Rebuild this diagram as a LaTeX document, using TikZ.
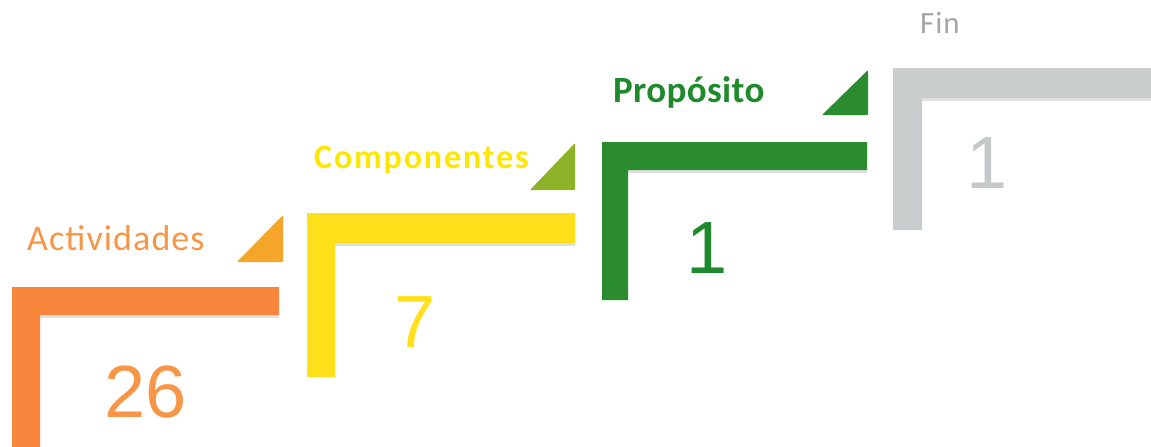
\documentclass[tikz,border=0pt]{standalone}
\usepackage{fontspec}
\setmainfont{Carlito}
\newfontfamily\numfont{Liberation Sans}
\definecolor{cOrange}{HTML}{F7863C}
\definecolor{cOrangeTxt}{HTML}{F79646}
\definecolor{cAmber}{HTML}{F5A52A}
\definecolor{cYellow}{HTML}{FFE01A}
\definecolor{cYellowTxt}{HTML}{FFE600}
\definecolor{cLime}{HTML}{8CB328}
\definecolor{cGreen}{HTML}{2A8C2E}
\definecolor{cGreenTxt}{HTML}{1F8A2B}
\definecolor{cGray}{HTML}{C9CDCD}
\definecolor{cGrayTxt}{HTML}{A6A6A6}
\definecolor{cGrayNum}{HTML}{C4C8C8}
\tikzset{
  stepbar/.style={fill=#1, draw=none},
  barshadow/.style={fill=black!12, draw=none},
  marker/.style={fill=#1, draw=none, rounded corners=1pt},
  steplabel/.style={anchor=base west, inner sep=0pt, text=#1},
  stepnum/.style={anchor=base west, inner sep=0pt, text=#1, font=\numfont\fontsize{74}{80}\selectfont},
}
\begin{document}
\begin{tikzpicture}[x=1pt,y=-1pt]
\useasboundingbox (0,0) rectangle (1151,447);
% faint shadows under the horizontal bars
\fill[barshadow] (40,315) rectangle (279,318);
\fill[barshadow] (335,243) rectangle (575,246);
\fill[barshadow] (628,170) rectangle (867,173);
\fill[barshadow] (922,98) rectangle (1151,101);
% L-shaped steps
\fill[stepbar=cOrange] (12,287) -- (279,287) -- (279,315) -- (40,315) -- (40,447) -- (12,447) -- cycle;
\fill[stepbar=cYellow] (307,213) -- (575,213) -- (575,243) -- (335,243) -- (335,377) -- (307,377) -- cycle;
\fill[stepbar=cGreen] (602,142) -- (867,142) -- (867,170) -- (628,170) -- (628,300) -- (602,300) -- cycle;
\fill[stepbar=cGray] (893,68) -- (1151,68) -- (1151,98) -- (922,98) -- (922,230) -- (893,230) -- cycle;
% triangles
\fill[marker=cAmber] (237,262) -- (283,215) -- (283,262) -- cycle;
\fill[marker=cLime] (530,190) -- (575,143) -- (575,190) -- cycle;
\fill[marker=cGreen] (822,115) -- (868,70) -- (868,115) -- cycle;
% labels
\node[steplabel=cOrangeTxt, font=\fontsize{36}{40}\selectfont\addfontfeatures{LetterSpace=3}] (lact) at (27,250) {Actividades};
\node[steplabel=cYellowTxt, font=\bfseries\fontsize{34}{38}\selectfont\addfontfeatures{LetterSpace=5.5}] (lcomp) at (314,168) {Componentes};
\node[steplabel=cGreenTxt, font=\bfseries\fontsize{37}{42}\selectfont\addfontfeatures{LetterSpace=1}] (lprop) at (613,102) {Propósito};
\node[steplabel=cGrayTxt, font=\fontsize{31}{36}\selectfont\addfontfeatures{LetterSpace=3}] (lfin) at (920,33) {Fin};
% numbers
\node[stepnum=cOrangeTxt] (nact) at (104,417) {26};
\node[stepnum=cYellow] (ncomp) at (394,347) {7};
\node[stepnum=cGreenTxt] (nprop) at (686,273) {1};
\node[stepnum=cGrayNum] (nfin) at (966,188) {1};
\end{tikzpicture}
\end{document}
